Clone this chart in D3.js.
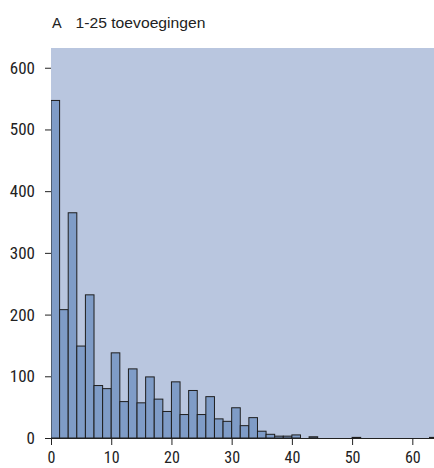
<!DOCTYPE html>
<html><head><meta charset="utf-8">
<script src="https://cdn.jsdelivr.net/npm/d3@7"></script>
<style>
body{margin:0;background:#fff;}
text{font-family:"Liberation Sans Narrow","Arial Narrow","Roboto Condensed","Liberation Sans",sans-serif;fill:#222;}
text.t{font-family:"Liberation Sans",Arial,sans-serif;}
</style></head>
<body><svg id="c" width="434" height="468"></svg>
<script>
const title = ["A", "1-25 toevoegingen"];
const binWidth = 10/7;
const counts = [547,208,365,149,232,85,80,138,59,112,57,99,63,43,91,38,77,38,67,31,27,49,20,33,11,6,3,3,5,0,2,0,0,0,0,1,0,0,0,0,0,0,0,0,1];
const xTicks = [0,10,20,30,40,50,60];
const yTicks = [0,100,200,300,400,500,600];

const svg = d3.select("#c");
const m = {left:51, right:434, top:48, bottom:438};
const x = d3.scaleLinear().domain([0,63.6]).range([m.left,m.right]);
const y = d3.scaleLinear().domain([0,632]).range([m.bottom,m.top]);

svg.append("rect").attr("x",m.left).attr("y",m.top).attr("width",m.right-m.left).attr("height",m.bottom-m.top).attr("fill","#b9c6df");

svg.append("clipPath").attr("id","pc").append("rect").attr("x",m.left).attr("y",m.top-2).attr("width",m.right-m.left).attr("height",m.bottom-m.top+2);

svg.append("g").attr("clip-path","url(#pc)").selectAll("rect.b").data(counts).join("rect")
  .attr("class","b")
  .attr("x",(d,i)=>x(i*binWidth))
  .attr("width",(d,i)=>x((i+1)*binWidth)-x(i*binWidth))
  .attr("y",d=>y(d))
  .attr("height",d=>y(0)-y(d))
  .attr("fill","#7f9cc7").attr("stroke","#1e1e1e").attr("stroke-width",1)
  .attr("display",d=>d>0?null:"none");

const ya = svg.append("g").attr("transform",`translate(${m.left},0)`)
  .call(d3.axisLeft(y).tickValues(yTicks).tickSize(6).tickPadding(10).tickFormat(d3.format("d")));
ya.select(".domain").remove();
ya.selectAll("text").style("font-size","17px").attr("fill","#2a2a2a");
ya.selectAll("line").attr("stroke","#222");

const xa = svg.append("g").attr("transform",`translate(0,${m.bottom})`)
  .call(d3.axisBottom(x).tickValues(xTicks).tickSize(7).tickSizeOuter(0).tickPadding(7).tickFormat(d3.format("d")));
xa.select(".domain").attr("stroke","#222");
xa.selectAll("text").style("font-size","16px").attr("fill","#2a2a2a");
xa.selectAll("line").attr("stroke","#222");

svg.append("text").attr("class","t").attr("x",52).attr("y",27.5).style("font-size","14.5px").text(title[0]);
svg.append("text").attr("class","t").attr("x",75.5).attr("y",27.5).style("font-size","14.5px")
  .attr("textLength",130).attr("lengthAdjust","spacingAndGlyphs").text(title[1]);
</script></body></html>
